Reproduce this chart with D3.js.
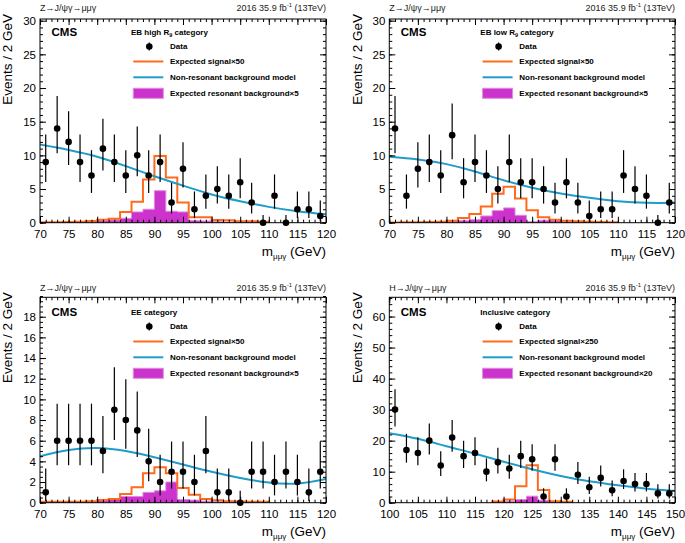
<!DOCTYPE html>
<html>
<head>
<meta charset="utf-8">
<script src="https://cdn.jsdelivr.net/npm/d3@7"></script>
<style>
body { margin: 0; background: #fff; }
svg { display: block; font-family: 'Liberation Sans', Arial, Helvetica, sans-serif; }
</style>
</head>
<body>
<svg id="chart" width="685" height="543"></svg>
<script>
// ---------- data ----------
var zMass = [71,73,75,77,79,81,83,85,87,89,91,93,95,97,99,101,103,105,107,109,111,113,115,117,119]
var hMass = [101,103,105,107,109,111,113,115,117,119,121,123,125,127,129,131,133,135,137,139,141,143,145,147,149]

var ebHighData = [9,14,12,9,7,11,9,7,10,7,9,3,8,2,4,5,4,6,3,0,4,0,2,2,1]
var ebLowData  = [14,4,8,9,7,13,6,9,7,5,9,6,6,5,3,6,3,1,2,2,7,5,4,0,3]
var eeData     = [1,6,6,6,6,5,9,8,7,4,2,3,3,2,5,1,1,0,3,3,2,3,2,1,3]
var inclData   = [30,17,16,20,12,21,15,16,10,13,11,15,14,2,14,2,9,5,8,4,7,6,6,3,3]

// 68% Poisson intervals, indexed by observed count
var poissonLo = [0,0.173,0.708,1.367,2.086,2.84,3.62,4.419,5.232,6.057,6.891,7.734,8.585,9.441,10.3,11.17,12.04,12.92,13.8,14.68,15.57,16.45,17.34,18.24,19.14,20.03,20.93,21.84,22.74,23.64,24.55]
var poissonHi = [1.148,3.3,4.638,5.918,7.163,8.382,9.584,10.77,11.95,13.11,14.27,15.42,16.56,17.7,18.83,19.96,21.08,22.2,23.32,24.44,25.55,26.66,27.76,28.87,29.97,31.07,32.16,33.26,34.36,35.45,36.54]

// histogram bin edges
var zEdges = [70,72,74,76,78,80,82,84,86,88,90,92,94,96,98,100,102,104,106,108,110]
var hEdges = [118,120,122,124,126,128,130,132]

var ebHighSignal = [0.05,0.07,0.1,0.15,0.25,0.45,0.6,1.6,3.1,6.4,9.9,6.7,3.0,0.8,0.8,0.4,0.35,0.2,0.2,0.15]
var ebHighResBkg = [0.02,0.03,0.05,0.1,0.15,0.3,0.4,0.65,1.6,2.0,4.75,1.7,1.6,0.3,0.25,0.15,0.1,0.08,0.05,0.03]
var ebLowSignal  = [0.03,0.05,0.07,0.1,0.15,0.3,0.7,1.3,2.4,4.3,5.35,3.6,1.85,0.8,0.45,0.3,0.2,0.15,0.1,0.08]
var ebLowResBkg  = [0.02,0.03,0.04,0.06,0.1,0.2,0.3,0.45,1.0,1.8,2.2,1.1,0.15,0.35,0.3,0.15,0.1,0.08,0.05,0.03]
var eeSignal     = [0.08,0.1,0.1,0.1,0.15,0.25,0.36,0.84,1.5,2.84,3.42,2.84,1.42,0.77,0.36,0.23,0.15,0.12,0.1,0.1]
var eeResBkg     = [0.05,0.05,0.05,0.05,0.1,0.2,0.3,0.6,0.6,1.0,1.15,2.0,0.3,0.25,0.15,0.1,0.1,0.08,0.05,0.05]
var inclSignal   = [0.4,1.0,5.3,12.1,4.1,0.5,0.3]
var inclResBkg   = [0.2,0.5,1.0,2.1,0.8,0.3,0.1]

// non-resonant background model, sampled every 5 GeV
var zCurveMass = [70,75,80,85,90,95,100,105,110,115,120]
var hCurveMass = [100,105,110,115,120,125,130,135,140,145,150]
var ebHighModel = [11.6,10.8,9.8,8.4,6.9,5.5,4.2,3.2,2.35,1.7,1.25]
var ebLowModel  = [9.8,9.4,8.7,7.6,6.3,5.2,4.35,3.7,3.2,2.95,2.95]
var eeModel     = [4.5,5.1,5.3,5.0,4.4,3.7,3.0,2.4,1.95,1.85,2.3]
var inclModel   = [22.4,20.6,18.2,15.8,13.2,10.8,8.6,6.9,5.6,4.5,3.8]

var zXTicks = [70,75,80,85,90,95,100,105,110,115,120]
var hXTicks = [100,105,110,115,120,125,130,135,140,145,150]
var ebYTicks = [0,5,10,15,20,25,30]
var eeYTicks = [0,2,4,6,8,10,12,14,16,18]
var inclYTicks = [0,10,20,30,40,50,60]

var headers = ['Z\u2192J/\u03c8\u03b3\u2192\u03bc\u03bc\u03b3', 'H\u2192J/\u03c8\u03b3\u2192\u03bc\u03bc\u03b3']

// ---------- layout ----------
var panels = [
  {id: 1, x0: 40, x1: 326, y0: 19, y1: 222.7, xDomain: [70, 120], yMax: 30.25,
   xTicks: zXTicks, yTicks: ebYTicks, yMinor: 1, mass: zMass, data: ebHighData,
   edges: zEdges, signal: ebHighSignal, resBkg: ebHighResBkg, curveX: zCurveMass, curveY: ebHighModel,
   header: headers[0], title: ['EB high R', '9', ' category'], sigScale: '50', resScale: '5'},
  {id: 2, x0: 389.3, x1: 675, y0: 19, y1: 222.7, xDomain: [70, 120], yMax: 30.25,
   xTicks: zXTicks, yTicks: ebYTicks, yMinor: 1, mass: zMass, data: ebLowData,
   edges: zEdges, signal: ebLowSignal, resBkg: ebLowResBkg, curveX: zCurveMass, curveY: ebLowModel,
   header: headers[0], title: ['EB low R', '9', ' category'], sigScale: '50', resScale: '5'},
  {id: 3, x0: 40, x1: 326, y0: 297.3, y1: 502.7, xDomain: [70, 120], yMax: 19.88,
   xTicks: zXTicks, yTicks: eeYTicks, yMinor: 0.5, mass: zMass, data: eeData,
   edges: zEdges, signal: eeSignal, resBkg: eeResBkg, curveX: zCurveMass, curveY: eeModel,
   header: headers[0], title: ['EE category'], sigScale: '50', resScale: '5'},
  {id: 4, x0: 389.3, x1: 675, y0: 297.3, y1: 502.7, xDomain: [100, 150], yMax: 66.2,
   xTicks: hXTicks, yTicks: inclYTicks, yMinor: 2, mass: hMass, data: inclData,
   edges: hEdges, signal: inclSignal, resBkg: inclResBkg, curveX: hCurveMass, curveY: inclModel,
   header: headers[1], title: ['Inclusive category'], sigScale: '250', resScale: '20'}
]

var orange = '#ff6a1c'
var blue = '#1f9cc9'
var magenta = '#cc33cc'
var magentaEdge = '#e08ae0'

var svg = d3.select('#chart')

var range = (a, b, s) => d3.range(a, b + s / 2, s)

var drawPanel = p => {
  var x = d3.scaleLinear().domain(p.xDomain).range([p.x0, p.x1])
  var y = d3.scaleLinear().domain([0, p.yMax]).range([p.y1, p.y0])
  var g = svg.append('g')

  g.append('clipPath').attr('id', 'clip' + p.id)
    .append('rect')
    .attr('x', p.x0).attr('y', p.y0)
    .attr('width', p.x1 - p.x0).attr('height', p.y1 - p.y0)

  var plot = g.append('g').attr('clip-path', 'url(#clip' + p.id + ')')

  // step points for histograms
  var stepPts = vals => {
    var pts = vals.map((v, i) => [p.edges[i], v])
    pts.push([p.edges[p.edges.length - 1], vals[vals.length - 1]])
    return pts
  }

  plot.append('path')
    .datum(stepPts(p.resBkg))
    .attr('fill', magenta)
    .attr('stroke', magentaEdge)
    .attr('stroke-width', 1)
    .attr('d', d3.area().curve(d3.curveStepAfter)
      .x(d => x(d[0])).y0(y(0)).y1(d => y(d[1])))

  var sig = stepPts(p.signal)
  sig.unshift([p.edges[0], 0])
  sig.push([p.edges[p.edges.length - 1], 0])
  plot.append('path')
    .datum(sig)
    .attr('fill', 'none')
    .attr('stroke', orange)
    .attr('stroke-width', 2)
    .attr('d', d3.line().curve(d3.curveStepAfter).x(d => x(d[0])).y(d => y(d[1])))

  plot.append('path')
    .datum(p.curveX.map((m, i) => [m, p.curveY[i]]))
    .attr('fill', 'none')
    .attr('stroke', blue)
    .attr('stroke-width', 2)
    .attr('d', d3.line().curve(d3.curveNatural).x(d => x(d[0])).y(d => y(d[1])))

  // frame
  g.append('rect')
    .attr('x', p.x0).attr('y', p.y0)
    .attr('width', p.x1 - p.x0).attr('height', p.y1 - p.y0)
    .attr('fill', 'none').attr('stroke', '#000').attr('stroke-width', 1)

  // axes (ticks inside, on all four sides)
  var xMinor = range(p.xDomain[0], p.xDomain[1], 1)
  var yMinor = range(0, p.yMax, p.yMinor)
  var axes = [
    [d3.axisBottom(x).tickValues(p.xTicks).tickSizeInner(-6).tickPadding(7.5).tickFormat(d3.format('d')), 'translate(0,' + p.y1 + ')'],
    [d3.axisBottom(x).tickValues(xMinor).tickSizeInner(-3).tickFormat(''), 'translate(0,' + p.y1 + ')'],
    [d3.axisTop(x).tickValues(p.xTicks).tickSizeInner(-6).tickFormat(''), 'translate(0,' + p.y0 + ')'],
    [d3.axisTop(x).tickValues(xMinor).tickSizeInner(-3).tickFormat(''), 'translate(0,' + p.y0 + ')'],
    [d3.axisLeft(y).tickValues(p.yTicks).tickSizeInner(-6).tickPadding(4).tickFormat(d3.format('d')), 'translate(' + p.x0 + ',0)'],
    [d3.axisLeft(y).tickValues(yMinor).tickSizeInner(-3).tickFormat(''), 'translate(' + p.x0 + ',0)'],
    [d3.axisRight(y).tickValues(p.yTicks).tickSizeInner(-6).tickFormat(''), 'translate(' + p.x1 + ',0)'],
    [d3.axisRight(y).tickValues(yMinor).tickSizeInner(-3).tickFormat(''), 'translate(' + p.x1 + ',0)']
  ]
  axes.forEach(a => {
    var ag = g.append('g').attr('transform', a[1]).call(a[0].tickSizeOuter(0))
    ag.select('.domain').remove()
    ag.selectAll('line').attr('stroke', '#000')
    ag.selectAll('text')
      .attr('fill', '#000')
      .style('font-family', "'Liberation Sans', Arial, sans-serif")
      .style('font-size', '11.5px')
  })

  // data points with Poisson error bars
  var pts = g.append('g')
  pts.selectAll('line').data(p.data).enter().append('line')
    .attr('x1', (d, i) => x(p.mass[i])).attr('x2', (d, i) => x(p.mass[i]))
    .attr('y1', d => y(poissonLo[d])).attr('y2', d => y(poissonHi[d]))
    .attr('stroke', '#000').attr('stroke-width', 1.2)
  pts.selectAll('circle').data(p.data).enter().append('circle')
    .attr('cx', (d, i) => x(p.mass[i])).attr('cy', d => y(d))
    .attr('r', 3.3).attr('fill', '#000')

  // header texts
  g.append('text').attr('x', p.x0).attr('y', p.y1 - 212)
    .style('font-size', '9px').attr('fill', '#222').text(p.header)
  var lumi = g.append('text').attr('x', p.x1).attr('y', p.y1 - 212)
    .attr('text-anchor', 'end').style('font-size', '9px').attr('fill', '#222')
  lumi.append('tspan').text('2016 35.9 fb')
  lumi.append('tspan').attr('dy', -3.5).style('font-size', '6px').text('-1')
  lumi.append('tspan').attr('dy', 3.5).text(' (13TeV)')

  g.append('text').attr('x', p.x0 + 11.5).attr('y', p.y1 - 186.3)
    .style('font-size', '11.5px').style('font-weight', 'bold').text('CMS')

  // axis titles
  g.append('text')
    .attr('transform', 'translate(' + (p.x0 - 32.5) + ',' + (p.y0 - 5) + ') rotate(-90)')
    .attr('text-anchor', 'end').attr('dy', '0.35em')
    .style('font-size', '13.5px').text('Events / 2 GeV')
  var xt = g.append('text').attr('x', p.x1).attr('y', p.y1 + 33.5)
    .attr('text-anchor', 'end').style('font-size', '13.5px')
  xt.append('tspan').text('m')
  xt.append('tspan').attr('dy', 3).style('font-size', '8px').text('\u03bc\u03bc\u03b3')
  xt.append('tspan').attr('dy', -3).text(' (GeV)')

  // legend
  var lx = p.x0 + 91
  var leg = g.append('g').style('font-size', '8px').style('font-weight', 'bold')
  var tt = leg.append('text').attr('x', lx).attr('y', p.y1 - 190.5).attr('dy', '0.35em')
  tt.append('tspan').text(p.title[0])
  if (p.title.length > 1) {
    tt.append('tspan').attr('dy', 2).style('font-size', '5.5px').text(p.title[1])
    tt.append('tspan').attr('dy', -2).text(p.title[2])
  }
  var rows = [p.y1 - 176.2, p.y1 - 161.2, p.y1 - 145.4, p.y1 - 129.4]
  var sx0 = p.x0 + 93.3
  var sx1 = p.x0 + 123.3
  leg.append('line').attr('x1', p.x0 + 109.3).attr('x2', p.x0 + 109.3)
    .attr('y1', rows[0] - 4).attr('y2', rows[0] + 4).attr('stroke', '#000').attr('stroke-width', 1.2)
  leg.append('circle').attr('cx', p.x0 + 109.3).attr('cy', rows[0]).attr('r', 3.3).attr('fill', '#000')
  leg.append('line').attr('x1', sx0).attr('x2', sx1).attr('y1', rows[1]).attr('y2', rows[1])
    .attr('stroke', orange).attr('stroke-width', 2)
  leg.append('line').attr('x1', sx0).attr('x2', sx1).attr('y1', rows[2]).attr('y2', rows[2])
    .attr('stroke', blue).attr('stroke-width', 2)
  leg.append('rect').attr('x', sx0).attr('y', rows[3] - 5).attr('width', sx1 - sx0).attr('height', 10)
    .attr('fill', magenta).attr('stroke', magentaEdge)
  var labels = ['Data', 'Expected signal\u00d7' + p.sigScale, 'Non-resonant background model',
    'Expected resonant background\u00d7' + p.resScale]
  labels.forEach((t, i) => {
    leg.append('text').attr('x', p.x0 + 130).attr('y', rows[i]).attr('dy', '0.35em').text(t)
  })
}

panels.forEach(drawPanel)
</script>
</body>
</html>
